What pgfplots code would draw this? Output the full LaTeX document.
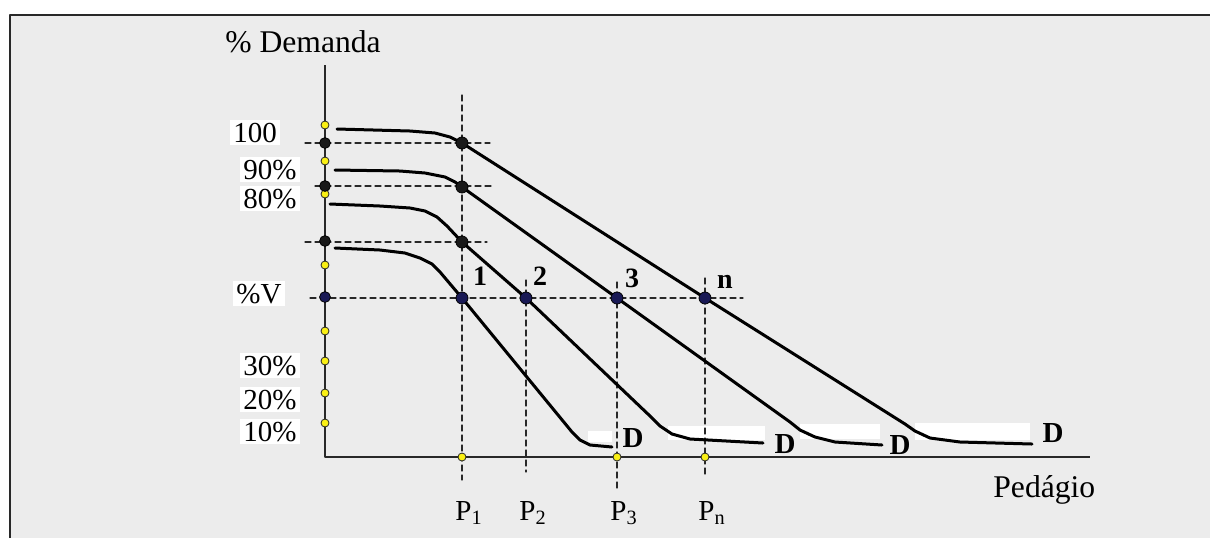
\documentclass[border=0pt]{standalone}
\usepackage{pgfplots}
\pgfplotsset{compat=1.18}
\usepackage{fontspec}
\setmainfont{Liberation Serif}
\definecolor{bg}{RGB}{236,236,236}
\definecolor{navyd}{RGB}{25,25,85}
\definecolor{ylw}{RGB}{250,240,20}
\definecolor{dk}{RGB}{40,40,40}
\newcommand\fs{\fontsize{14.5}{17}\selectfont}
\newcommand\fl{\fontsize{15.8}{18}\selectfont}
\newcommand\fb{\fontsize{14}{17}\selectfont\bfseries}
\begin{document}
\begin{tikzpicture}
\begin{axis}[
 width=605pt, height=269pt, scale only axis,
 xmin=0, xmax=1210, ymin=0, ymax=538, y dir=reverse,
 axis lines=none, ticks=none, clip=false,
 every axis plot/.append style={line join=round, line cap=round},
 dsh/.style={dk, line width=0.6pt, dash pattern=on 3pt off 2pt},
 crv/.style={black, line width=1.5pt},
]
% background and frame
\addplot[fill=bg, draw=none] coordinates {(10,15) (1210,15) (1210,538) (10,538)} --cycle;
\addplot[dk, line width=1pt, line cap=butt] coordinates {(10,538) (10,15) (1210,15)};
% white patches above the flat ends
\addplot[fill=white, draw=none] coordinates {(588,431) (612,431) (612,442) (588,442)} --cycle;
\addplot[fill=white, draw=none] coordinates {(668,426) (765,426) (765,440) (668,440)} --cycle;
\addplot[fill=white, draw=none] coordinates {(800,424) (880,424) (880,439) (800,439)} --cycle;
\addplot[fill=white, draw=none] coordinates {(915,423) (1030,423) (1030,440) (915,440)} --cycle;
% dashed guide lines
\addplot[dsh] coordinates {(305,143) (490,143)};
\addplot[dsh] coordinates {(315,186) (493,186)};
\addplot[dsh] coordinates {(305,242) (487,242)};
\addplot[dsh] coordinates {(310,298) (743,298)};
\addplot[dsh] coordinates {(462,95) (462,480)};
\addplot[dsh] coordinates {(526,280) (526,472)};
\addplot[dsh] coordinates {(617,282) (617,490)};
\addplot[dsh] coordinates {(705,278) (705,477)};
% axes
\addplot[dk, line width=0.8pt, line cap=butt] coordinates {(325,65) (325,457) (1090,457)};
% demand curves
\addplot[crv] coordinates {(335,248) (380,250) (405,253) (420,258) (432,264) (440,272) (462,298) (572,432) (580,440) (590,445) (612,447)};
\addplot[crv] coordinates {(330,204) (380,206) (410,208) (425,211) (437,217) (447,226) (462,242) (526,298) (650,416) (660,426) (672,434) (690,439) (763,443)};
\addplot[crv] coordinates {(335,170) (400,171) (425,173) (445,177) (455,182) (462,187) (617,298) (790,422) (800,430) (815,437) (835,442) (882,445)};
\addplot[crv] coordinates {(337,129) (410,131) (435,133) (450,137) (462,143) (705,298) (905,424) (915,431) (930,438) (960,442) (1032,444)};
% dots
\addplot[only marks, mark=*, mark size=2pt, mark options={fill=ylw, draw=dk, line width=0.4pt}] coordinates {(325,125) (325,161) (325,194) (325,265) (325,331) (325,361) (325,393) (325,423) (462,457) (617,457) (705,457)};
\addplot[only marks, mark=*, mark size=2.7pt, mark options={fill=black!90, draw=black}] coordinates {(325,143) (325,186) (325,241)};
\addplot[only marks, mark=*, mark size=3pt, mark options={fill=black!90, draw=black}] coordinates {(462,143) (462,187) (462,242)};
\addplot[only marks, mark=*, mark size=2.7pt, mark options={fill=navyd, draw=black}] coordinates {(325,297)};
\addplot[only marks, mark=*, mark size=3pt, mark options={fill=navyd, draw=black}] coordinates {(462,298) (526,298) (617,298) (705,298)};
% text
\node[anchor=base west, font=\fl, inner sep=0pt] at (axis cs:225,52) {\% Demanda};
\node[anchor=base west, font=\fl, inner sep=0pt] at (axis cs:993,497) {Pedágio};
\begin{scope}[every node/.style={anchor=base west, font=\fs, fill=white, inner sep=1.5pt}]
\node at (axis cs:230,142) {100};
\node at (axis cs:240,179) {90\%};
\node at (axis cs:240,208) {80\%};
\node at (axis cs:233,303) {\%V};
\node at (axis cs:240,375) {30\%};
\node at (axis cs:240,409) {20\%};
\node at (axis cs:240,441) {10\%};
\end{scope}
\begin{scope}[every node/.style={anchor=base west, font=\fs, inner sep=0pt}]
\node at (axis cs:455,520) {P\textsubscript{1}};
\node at (axis cs:519,520) {P\textsubscript{2}};
\node at (axis cs:610,520) {P\textsubscript{3}};
\node at (axis cs:698,520) {P\textsubscript{n}};
\end{scope}
\begin{scope}[every node/.style={font=\fb, inner sep=0pt}]
\node[anchor=base] at (axis cs:480,285) {1};
\node[anchor=base] at (axis cs:540,285) {2};
\node[anchor=base] at (axis cs:632,287) {3};
\node[anchor=base] at (axis cs:725,288) {n};
\node[anchor=base, font=\fontsize{14.5}{17}\selectfont\bfseries] at (axis cs:633,447) {D};
\node[anchor=base, font=\fontsize{14.5}{17}\selectfont\bfseries] at (axis cs:785,453) {D};
\node[anchor=base, font=\fontsize{14.5}{17}\selectfont\bfseries] at (axis cs:900,454) {D};
\node[anchor=base, font=\fontsize{14.5}{17}\selectfont\bfseries] at (axis cs:1053,442) {D};
\end{scope}
\end{axis}
\pgfresetboundingbox
\path[use as bounding box] (current axis.south west) rectangle (current axis.north east);
\end{tikzpicture}
\end{document}
